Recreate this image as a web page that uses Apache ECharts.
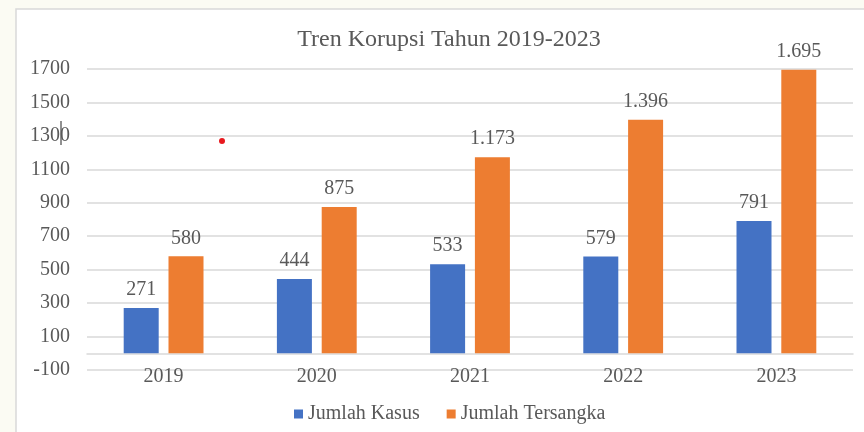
<!DOCTYPE html>
<html>
<head>
<meta charset="utf-8">
<script src="https://cdn.jsdelivr.net/npm/echarts@6/dist/echarts.min.js"></script>
<style>
    html, body {margin: 0; padding: 0; background: #FBFBF3;}
    #chart {width: 864px; height: 432px;}
</style>
</head>
<body>
<div id="chart"></div>
<script>
//  数据
const years = ['2019', '2020', '2021', '2022', '2023'];
const kasus = [271, 444, 533, 579, 791];
const tersangka = [580, 875, 1173, 1396, 1695];
//  刻度：-100 到 1700，每 200 一格
const yTickMin = -100;
const yTickMax = 1700;
const yTickStep = 200;

const fontFamily = '"Liberation Serif", "DejaVu Serif", serif';
const textColor = '#595959';

//  千位用点分隔
function formatId(v) {
    return String(v).replace(/\B(?=(\d{3})+(?!\d))/g, '.');
}

const myChart = echarts.init(document.getElementById('chart'));
myChart.setOption({
    backgroundColor: '#FBFBF3',
    animation: false,
    graphic: [{
        type: 'rect',
        shape: {x: 16, y: 9, width: 860, height: 440},
        style: {fill: '#fff', stroke: '#D9D9D9', lineWidth: 1.5},
        z: -10,
        silent: true
    }, {
        //  图里的小红点
        type: 'circle',
        shape: {cx: 222, cy: 141, r: 3},
        style: {fill: '#E8191E'},
        silent: true
    }, {
        //  光标
        type: 'line',
        shape: {x1: 61, y1: 121, x2: 61, y2: 145},
        style: {stroke: '#222', lineWidth: 1},
        silent: true
    }],
    title: {
        text: 'Tren Korupsi Tahun 2019-2023',
        left: 444,
        top: 23,
        textAlign: 'center',
        textStyle: {fontFamily: fontFamily, fontSize: 24, fontWeight: 'normal', color: textColor}
    },
    legend: {
        data: ['Jumlah Kasus', 'Jumlah Tersangka'],
        left: 289,
        top: 399,
        itemWidth: 9,
        itemHeight: 9,
        itemGap: 27,
        icon: 'rect',
        textStyle: {fontFamily: fontFamily, fontSize: 20, color: textColor}
    },
    grid: {left: 87, right: 11, top: 69, bottom: 62},
    xAxis: {
        type: 'category',
        data: years,
        axisLine: {onZero: true, onZeroAxisIndex: 0, lineStyle: {color: '#D9D9D9', width: 1.5}},
        axisTick: {show: false},
        axisLabel: {margin: -3, fontFamily: fontFamily, fontSize: 20, color: textColor}
    },
    yAxis: [{
        //  柱子用的轴
        type: 'value',
        min: yTickMin,
        max: yTickMax,
        show: false,
        splitLine: {show: false}
    }, {
        //  网格和刻度用的轴，整体平移 100
        type: 'value',
        position: 'left',
        min: 0,
        max: yTickMax - yTickMin,
        interval: yTickStep,
        axisLine: {show: false},
        axisTick: {show: false},
        axisLabel: {
            margin: 17,
            fontFamily: fontFamily,
            fontSize: 20,
            color: textColor,
            formatter: function (v) { return String(v + yTickMin); }
        },
        splitLine: {lineStyle: {color: '#D9D9D9', width: 1.5}}
    }],
    series: [{
        name: 'Jumlah Kasus',
        type: 'bar',
        yAxisIndex: 0,
        data: kasus,
        barWidth: 35,
        barGap: '28%',
        itemStyle: {color: '#4472C4'},
        label: {show: true, position: 'top', distance: 8, fontFamily: fontFamily, fontSize: 20, color: textColor,
            formatter: function (p) { return formatId(p.value); }}
    }, {
        name: 'Jumlah Tersangka',
        type: 'bar',
        yAxisIndex: 0,
        data: tersangka,
        barWidth: 35,
        itemStyle: {color: '#ED7D31'},
        label: {show: true, position: 'top', distance: 8, fontFamily: fontFamily, fontSize: 20, color: textColor,
            formatter: function (p) { return formatId(p.value); }}
    }]
});
</script>
</body>
</html>
